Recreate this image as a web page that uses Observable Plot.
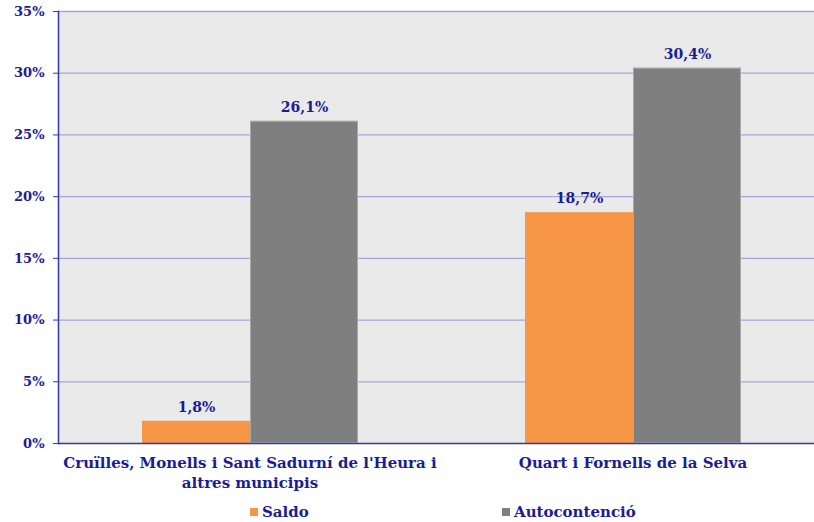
<!DOCTYPE html>
<html><head><meta charset="utf-8">
<script src="https://cdn.jsdelivr.net/npm/d3@7"></script>
<script src="https://cdn.jsdelivr.net/npm/@observablehq/plot@0.6"></script>
<style>
body{margin:0;overflow:hidden;background:#fff;font-family:"DejaVu Serif";}
#chart svg{max-width:none !important;}
#legend{position:relative;height:22px;font:bold 15px "DejaVu Serif";color:#1c1c94}
.item{position:absolute;top:3px;display:flex;align-items:center;white-space:nowrap}
.sw{width:8px;height:8px;margin-right:4px;display:inline-block}
</style></head><body><div id="chart"></div><div id="legend"></div>
<script>
const categories = ["Cruïlles, Monells i Sant Sadurní de l'Heura i altres municipis", "Quart i Fornells de la Selva"];
const categoryLabels = ["Cruïlles, Monells i Sant Sadurní de l'Heura i\naltres municipis", "Quart i Fornells de la Selva"];
const series = ["Saldo", "Autocontenció"];
const saldo = [1.8, 18.7];
const autocontencio = [26.1, 30.4];
const yTicks = [0, 5, 10, 15, 20, 25, 30, 35];
const colors = ["#f79646", "#7f7f7f"];

const data = categories.flatMap((c, i) => [
  {cat: c, s: series[0], v: saldo[i]},
  {cat: c, s: series[1], v: autocontencio[i]}
]);
const txt = "#1c1c94";
const fmt = v => v.toFixed(1).replace(".", ",") + "%";

const chart = Plot.plot({
  width: 824, height: 500,
  marginLeft: 58, marginRight: 0, marginTop: 11, marginBottom: 57,
  style: {fontFamily: "DejaVu Serif", fontWeight: "bold", color: txt, background: "#fff", overflow: "hidden", maxWidth: "none"},
  fx: {domain: categories, paddingInner: 0, paddingOuter: 0, label: null, axis: null},
  x: {domain: series, paddingInner: 0, paddingOuter: 0.757, axis: null},
  y: {domain: [0, 35], label: null},
  color: {domain: series, range: colors},
  marks: [
    Plot.frame({fill: "#eaeaea", stroke: null, facet: "super"}),
    Plot.ruleY(yTicks.filter(d => d > 0), {stroke: "#aaa3db", strokeWidth: 1.3}),
    Plot.barY(data, {fx: "cat", x: "s", y: "v", fill: "s"}),
    Plot.barY(data.filter(d => d.s === series[1]), {fx: "cat", x: "s", y: "v", fill: "none", stroke: "#a8a8a8", strokeWidth: 1, inset: 0.5}),
    Plot.text(data, {fx: "cat", x: "s", y: "v", text: d => fmt(d.v), dy: -14, fontSize: 14, fill: txt}),
    Plot.ruleY([0], {stroke: "#3535ad", strokeWidth: 1.5}),
    Plot.frame({anchor: "left", stroke: "#3535ad", strokeWidth: 1.5, facet: "super"}),
    Plot.axisY({ticks: yTicks, tickFormat: d => d + "%", tickSize: 5, tickPadding: 9, fontSize: 13, color: txt, stroke: "#3535ad", label: null}),
    Plot.axisFx({anchor: "bottom", tickSize: 0, tickPadding: 10, fontSize: 15, lineHeight: 1.33, color: txt, label: null,
      tickFormat: c => categoryLabels[categories.indexOf(c)]})
  ]
});
document.getElementById("chart").append(chart);

const legend = document.getElementById("legend");
const pos = [250, 502];
series.forEach((s, i) => {
  const it = document.createElement("div");
  it.className = "item";
  it.style.left = pos[i] + "px";
  it.innerHTML = `<span class="sw" style="background:${colors[i]}"></span><span>${s}</span>`;
  legend.append(it);
});
</script></body></html>
